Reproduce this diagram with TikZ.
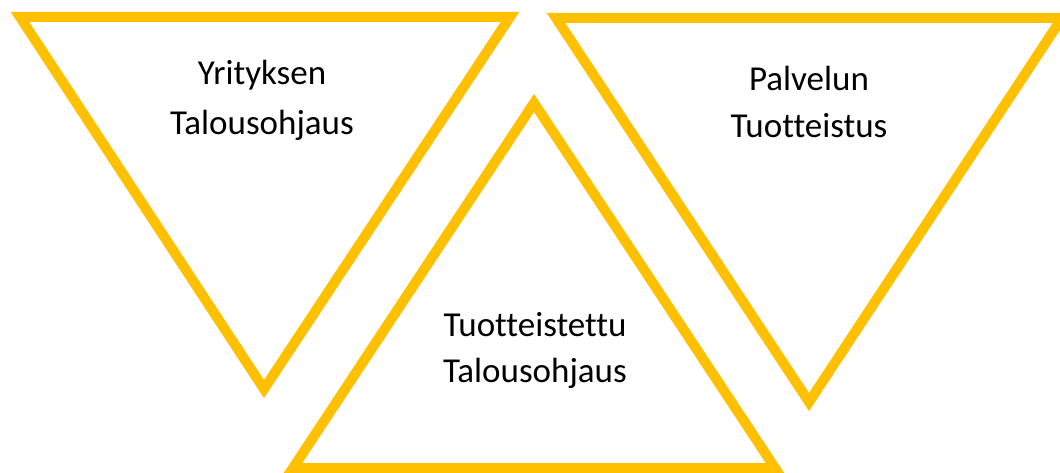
\documentclass[tikz,border=0pt]{standalone}
\usepackage{fontspec}
\setmainfont[Ligatures=NoCommon]{Carlito}
\definecolor{gold}{HTML}{FFC000}
\tikzset{
  tri/.style={draw=gold, line width=10pt, line join=miter, miter limit=10},
  lbl/.style={anchor=base, inner sep=0pt, font=\fontsize{35}{42}\selectfont, text=black}
}
\begin{document}
\begin{tikzpicture}[x=1pt,y=-1pt]
\useasboundingbox (0,0) rectangle (1060,473);
\clip (0,0) rectangle (1060,473);
\fill[white] (0,0) rectangle (1060,473);
\draw[tri] (20,17) -- (510,17) -- (264,389) -- cycle;
\draw[tri] (556,18) -- (1062,18) -- (809,402) -- cycle;
\draw[tri] (534,103) -- (775,468) -- (293,468) -- cycle;
\node[lbl] (l1) at (262,85) {Yrityksen};
\node[lbl] (l2) at (262,135) {Talousohjaus};
\node[lbl] (r1) at (809,91) {Palvelun};
\node[lbl] (r2) at (809,138) {Tuotteistus};
\node[lbl] (m1) at (535,336) {Tuotteistettu};
\node[lbl] (m2) at (535,382) {Talousohjaus};
\end{tikzpicture}
\end{document}
